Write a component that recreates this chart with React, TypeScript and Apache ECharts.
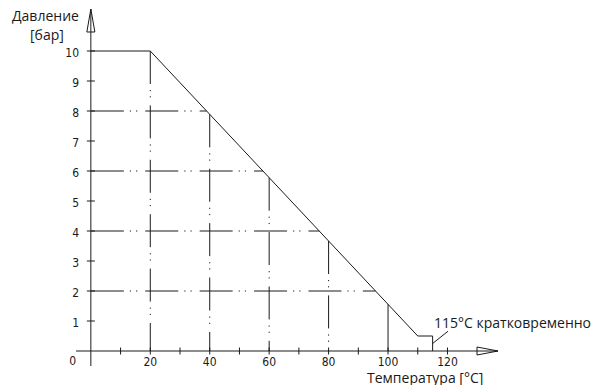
import React, { useEffect, useRef } from "react";
import * as echarts from "echarts";

// ---- data ----
const curveTemps = [0, 20, 110, 115, 115];
const curvePressures = [10, 10, 0.5, 0.5, 0];
const gridPressures = [2, 4, 6, 8];
const gridTemps = [20, 40, 60, 80];
const solidDropTemps = [100];
const xTickValues = [10, 20, 30, 40, 50, 60, 70, 80, 90, 100, 110, 120];
const yTickValues = [1, 2, 3, 4, 5, 6, 7, 8, 9, 10];
const xLabelValues = [20, 40, 60, 80, 100, 120];
const yLabelValues = [0, 1, 2, 3, 4, 5, 6, 7, 8, 9, 10];
const noteLeaderTemps = [115, 120.2];
const noteLeaderPressures = [0.25, 0.66];
const noteText = "115°C кратковременно";
const xName = "Температура [°C]";
const yNameLines = ["Давление", "[бар]"];
const xRange = [-5, 137];
const yRange = [-0.5, 11.4];

const INK = "#1a1a1a";
const DASH = [33, 6, 1.2, 5, 1.2, 8];
const TICK_FONT = "'Liberation Sans Narrow', 'DejaVu Sans Condensed', sans-serif";
const TEXT_FONT = "'Open Sans', 'Noto Sans', sans-serif";

const curvePoints = curveTemps.map((t, i) => [t, curvePressures[i]]);

function pressureAt(t: number): number {
  for (let i = 0; i < curvePoints.length - 1; i++) {
    const [x0, y0] = curvePoints[i];
    const [x1, y1] = curvePoints[i + 1];
    if (x1 > x0 && t >= x0 && t <= x1) return y0 + ((t - x0) / (x1 - x0)) * (y1 - y0);
  }
  return 0;
}
function tempAt(p: number): number {
  for (let i = 0; i < curvePoints.length - 1; i++) {
    const [x0, y0] = curvePoints[i];
    const [x1, y1] = curvePoints[i + 1];
    if (y0 !== y1 && x1 > x0 && p <= Math.max(y0, y1) && p >= Math.min(y0, y1))
      return x0 + ((p - y0) / (y1 - y0)) * (x1 - x0);
  }
  return 0;
}

export default function App() {
  const ref = useRef<HTMLDivElement>(null);
  useEffect(() => {
    if (!ref.current) return;
    const chart = echarts.init(ref.current, undefined, { renderer: "svg" });
    chart.setOption({
      animation: false,
      backgroundColor: "#ffffff",
      grid: { left: 76, right: 98, top: 9, bottom: 19, containLabel: false },
      xAxis: {
        type: "value",
        min: xRange[0],
        max: xRange[1],
        axisLine: { show: false },
        axisTick: { show: false },
        splitLine: { show: false },
        axisLabel: {
          customValues: xLabelValues,
          margin: -10,
          color: INK,
          fontFamily: TICK_FONT,
          fontSize: 12,
        },
      },
      yAxis: {
        type: "value",
        min: yRange[0],
        max: yRange[1],
        axisLine: { show: false },
        axisTick: { show: false },
        splitLine: { show: false },
        axisLabel: {
          customValues: yLabelValues,
          margin: -3,
          color: INK,
          fontFamily: TICK_FONT,
          fontSize: 12,
          formatter: (v: number) => (v === 0 ? "{z|0}" : "{n|" + v + "}"),
          rich: {
            z: { padding: [20, 3, 0, 0], fontFamily: TICK_FONT, fontSize: 12, color: INK },
            n: { padding: [4, 0, 0, 0], fontFamily: TICK_FONT, fontSize: 12, color: INK },
          },
        },
      },
      series: [
        {
          type: "custom",
          silent: true,
          z: 2,
          data: gridPressures.map((p) => [0, p]),
          renderItem: (_params: any, api: any) => {
            const p = api.value(1);
            const a = api.coord([0, p]);
            const b = api.coord([tempAt(p), p]);
            return {
              type: "line",
              shape: { x1: a[0], y1: a[1], x2: b[0], y2: b[1] },
              style: { stroke: INK, lineWidth: 1, lineDash: DASH, fill: null },
            };
          },
        },
        {
          type: "custom",
          silent: true,
          z: 2,
          data: gridTemps.map((t) => [t, pressureAt(t)]),
          renderItem: (_params: any, api: any) => {
            const t = api.value(0);
            const a = api.coord([t, api.value(1)]);
            const b = api.coord([t, 0]);
            return {
              type: "line",
              shape: { x1: a[0], y1: a[1], x2: b[0], y2: b[1] },
              style: { stroke: INK, lineWidth: 1, lineDash: DASH, fill: null },
            };
          },
        },
        {
          type: "custom",
          silent: true,
          z: 2,
          data: solidDropTemps.map((t) => [t, pressureAt(t)]),
          renderItem: (_params: any, api: any) => {
            const t = api.value(0);
            const a = api.coord([t, api.value(1)]);
            const b = api.coord([t, 0]);
            return {
              type: "line",
              shape: { x1: a[0], y1: a[1], x2: b[0], y2: b[1] },
              style: { stroke: INK, lineWidth: 1, fill: null },
            };
          },
        },
        {
          type: "custom",
          silent: true,
          z: 3,
          data: [[0, 0]],
          renderItem: (_params: any, api: any) => {
            const o = api.coord([0, 0]);
            const xs = api.coord([xRange[0], 0]);
            const xe = api.coord([xRange[1], 0]);
            const ys = api.coord([0, yRange[0]]);
            const ye = api.coord([0, yRange[1]]);
            const children: any[] = [
              { type: "line", shape: { x1: xs[0], y1: o[1], x2: xe[0], y2: o[1] }, style: { stroke: INK, lineWidth: 1 } },
              { type: "line", shape: { x1: o[0], y1: ys[1], x2: o[0], y2: ye[1] }, style: { stroke: INK, lineWidth: 1 } },
              {
                type: "polygon",
                shape: { points: [[xe[0], o[1]], [xe[0] - 21, o[1] - 4], [xe[0] - 21, o[1] + 4]] },
                style: { stroke: INK, lineWidth: 1, fill: "none" },
              },
              {
                type: "polygon",
                shape: { points: [[o[0], ye[1]], [o[0] - 4, ye[1] + 23], [o[0] + 4, ye[1] + 23]] },
                style: { stroke: INK, lineWidth: 1, fill: "none" },
              },
            ];
            xTickValues.forEach((t) => {
              const c = api.coord([t, 0]);
              children.push({ type: "line", shape: { x1: c[0], y1: c[1] - 3.5, x2: c[0], y2: c[1] + 3.5 }, style: { stroke: INK, lineWidth: 1 } });
            });
            yTickValues.forEach((p) => {
              const c = api.coord([0, p]);
              children.push({ type: "line", shape: { x1: c[0] - 4, y1: c[1], x2: c[0] + 4, y2: c[1] }, style: { stroke: INK, lineWidth: 1 } });
            });
            return { type: "group", children };
          },
        },
        {
          type: "line",
          silent: true,
          z: 4,
          data: curvePoints,
          showSymbol: false,
          symbol: "none",
          lineStyle: { color: INK, width: 1 },
        },
        {
          type: "line",
          silent: true,
          z: 4,
          data: noteLeaderTemps.map((t, i) => [t, noteLeaderPressures[i]]),
          showSymbol: false,
          symbol: "none",
          lineStyle: { color: INK, width: 1 },
        },
      ],
      graphic: [
        { type: "text", left: 12, top: 8, style: { text: yNameLines[0], font: "14px " + TEXT_FONT, fill: INK } },
        { type: "text", left: 30, top: 27, style: { text: yNameLines[1], font: "14px " + TEXT_FONT, fill: INK } },
        { type: "text", left: 367, top: 370, style: { text: xName, font: "14px " + TEXT_FONT, fill: INK } },
        { type: "text", left: 434, top: 315, style: { text: noteText, font: "14px " + TEXT_FONT, fill: INK } },
      ],
    });
    return () => chart.dispose();
  }, []);
  return <div ref={ref} style={{ position: "fixed", left: 0, top: 0, width: 596, height: 385 }} />;
}
